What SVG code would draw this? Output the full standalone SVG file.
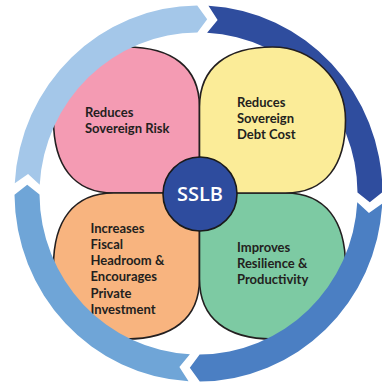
<svg xmlns="http://www.w3.org/2000/svg" width="382" height="384" viewBox="0 0 382 384">
<style>
.petal{stroke:#231F20;stroke-width:1.6;stroke-linejoin:round}
.lbl{font-family:Lato,"Liberation Sans",sans-serif;font-weight:700;font-size:13px;fill:#231F20}
.hub{font-family:"Open Sans","Liberation Sans",sans-serif;font-weight:600;font-size:20px;fill:#FFFFFF}
</style>
<defs>
<path id="leaf" d="M0,0 L0,-86 C0,-126 28,-146 73,-146 C113,-146 146,-113 146,-73 C146,-28 126,0 86,0 Z"/>
</defs>
<rect width="382" height="384" fill="#FFFFFF"/>
<g id="node-risk">
<use href="#leaf" class="petal" fill="#F49BB3" transform="translate(199.5,193) scale(-1,1)"/>
<text class="lbl" x="85" y="117">Reduces</text>
<text class="lbl" x="85" y="132.5">Sovereign Risk</text>
</g>
<g id="node-fiscal">
<use href="#leaf" class="petal" fill="#F8B47F" transform="translate(199.5,193) scale(-1,-1)"/>
<text class="lbl" x="90.5" y="232.5">Increases</text>
<text class="lbl" x="90.5" y="248.8">Fiscal</text>
<text class="lbl" x="90.5" y="265">Headroom &amp;</text>
<text class="lbl" x="90.5" y="281.3">Encourages</text>
<text class="lbl" x="90.5" y="297.5">Private</text>
<text class="lbl" x="90.5" y="313.8">Investment</text>
</g>
<g id="node-resilience">
<use href="#leaf" class="petal" fill="#7DCAA3" transform="translate(199.5,193) scale(1,-1)"/>
<text class="lbl" x="237" y="252">Improves</text>
<text class="lbl" x="237" y="268">Resilience &amp;</text>
<text class="lbl" x="237" y="284">Productivity</text>
</g>
<g id="connectors">
<path fill="#A4C7E9" d="M14.77,183.33 A184,188 0 0,1 197.22,5.50 L207.18,19.22 L197.39,32.50 A159,161 0 0,0 39.73,184.79 L28.07,174.05 Z"/>
<path fill="#2F4D9E" d="M208.45,5.77 A184,188 0 0,1 382.50,192.19 L369.78,202.33 L357.50,192.38 A159,161 0 0,0 207.10,32.74 L217.62,20.09 Z"/>
<path fill="#4B7FC3" d="M382.23,203.67 A184,188 0 0,1 199.78,381.50 L189.82,367.78 L199.61,354.50 A159,161 0 0,0 357.27,202.21 L368.93,212.95 Z"/>
<path fill="#6FA5D7" d="M188.55,381.23 A184,188 0 0,1 14.50,194.81 L27.22,184.67 L39.50,194.62 A159,161 0 0,0 189.90,354.26 L179.38,366.91 Z"/>
</g>
<g id="node-debt">
<use href="#leaf" class="petal" fill="#FBEC98" transform="translate(199.5,193)"/>
<text class="lbl" x="237" y="107">Reduces</text>
<text class="lbl" x="237" y="123">Sovereign</text>
<text class="lbl" x="237" y="139">Debt Cost</text>
</g>
<g id="node-sslb">
<circle cx="200" cy="194" r="37" fill="#2E4C9E" stroke="#1A1A1A" stroke-width="1.6"/>
<text class="hub" x="200" y="201" text-anchor="middle">SSLB</text>
</g>
</svg>
